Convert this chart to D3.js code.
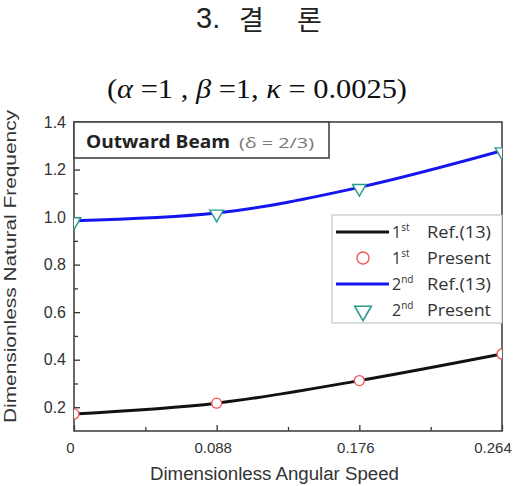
<!DOCTYPE html>
<html><head><meta charset="utf-8">
<script src="https://cdn.jsdelivr.net/npm/d3@7"></script>
<style>body{margin:0;background:#fff}</style>
</head><body>
<svg id="c" width="532" height="486"></svg>
<script>
const speeds = [0, 0.088, 0.176, 0.264];
const mode1Ref = [0.172, 0.217, 0.312, 0.424];
const mode1Present = [0.172, 0.217, 0.312, 0.424];
const mode2Ref = [0.985, 1.017, 1.125, 1.279];
const mode2Present = [0.985, 1.017, 1.125, 1.279];
const xTickValues = [0, 0.088, 0.176, 0.264];
const xTickLabels = ["0", "0.088", "0.176", "0.264"];
const yTickValues = [0.2, 0.4, 0.6, 0.8, 1.0, 1.2, 1.4];

const svg = d3.select("#c");
const L = 74, R = 502, T = 122, B = 431;
const x = d3.scaleLinear().domain([0, 0.264]).range([L, R]);
const y = d3.scaleLinear().domain([0.1, 1.4]).range([B, T]);
const sans = "'Liberation Sans', Arial, sans-serif";
const ui = "'Open Sans', 'Noto Sans', sans-serif";

// titles
svg.append("text").attr("x", 196).attr("y", 28)
  .attr("font-family", sans).attr("font-size", 29).attr("fill", "#222").text("3.");
svg.append("text").attr("x", 239).attr("y", 30)
  .attr("font-family", "'Noto Sans CJK KR', sans-serif").attr("font-size", 27).attr("fill", "#222").text("결");
svg.append("text").attr("x", 297).attr("y", 30)
  .attr("font-family", "'Noto Sans CJK KR', sans-serif").attr("font-size", 27).attr("fill", "#222").text("론");

const sub = svg.append("text").attr("x", 107).attr("y", 98)
  .attr("textLength", 300).attr("lengthAdjust", "spacingAndGlyphs")
  .attr("font-family", "'Liberation Serif', 'Times New Roman', serif").attr("font-size", 27).attr("fill", "#111");
sub.append("tspan").text("(");
sub.append("tspan").attr("font-style", "italic").text("α");
sub.append("tspan").text(" =1 , ");
sub.append("tspan").attr("font-style", "italic").text("β");
sub.append("tspan").text(" =1, ");
sub.append("tspan").attr("font-style", "italic").text("κ");
sub.append("tspan").text(" = 0.0025)");

// clip
svg.append("clipPath").attr("id", "clip").append("rect")
  .attr("x", L).attr("y", T).attr("width", R - L).attr("height", B - T);

// axes
const yAxis = d3.axisLeft(y).tickValues(yTickValues).tickFormat(d3.format(".1f")).tickSize(-6).tickPadding(8);
const gy = svg.append("g").attr("transform", `translate(${L},0)`).call(yAxis);
const yMinor = d3.axisLeft(y).tickValues([0.3, 0.5, 0.7, 0.9, 1.1, 1.3]).tickFormat("").tickSize(-4);
svg.append("g").attr("transform", `translate(${L},0)`).call(yMinor).select(".domain").remove();

const xAxis = d3.axisBottom(x).tickValues(xTickValues).tickFormat((d, i) => xTickLabels[i]).tickSize(-6).tickPadding(11);
const gx = svg.append("g").attr("transform", `translate(0,${B})`).call(xAxis);
const xMinor = d3.axisBottom(x).tickValues([0.044, 0.132, 0.22]).tickFormat("").tickSize(-4);
svg.append("g").attr("transform", `translate(0,${B})`).call(xMinor).select(".domain").remove();

svg.selectAll(".domain").remove();
svg.selectAll(".tick line").attr("stroke", "#333").attr("stroke-width", 1.3);
svg.selectAll(".tick text").attr("font-family", sans).attr("fill", "#333");
gy.selectAll(".tick text").attr("font-size", 16);
gx.selectAll(".tick text").attr("font-size", 15).attr("dx", (d, i) => i === 3 ? -9.5 : -4);

// frame
svg.append("rect").attr("x", L).attr("y", T).attr("width", R - L).attr("height", B - T)
  .attr("fill", "none").attr("stroke", "#444").attr("stroke-width", 1.6);

// axis labels
svg.append("text").attr("transform", "translate(16,423) rotate(-90)")
  .attr("textLength", 313).attr("lengthAdjust", "spacingAndGlyphs")
  .attr("font-family", sans).attr("font-size", 17).attr("fill", "#333").text("Dimensionless Natural Frequency");
svg.append("text").attr("x", 150).attr("y", 480)
  .attr("textLength", 249).attr("lengthAdjust", "spacingAndGlyphs")
  .attr("font-family", sans).attr("font-size", 18).attr("fill", "#333").text("Dimensionless Angular Speed");

// lines
const plot = svg.append("g").attr("clip-path", "url(#clip)");
const line = d3.line().x((d, i) => x(speeds[i])).y(d => y(d)).curve(d3.curveMonotoneX);
plot.append("path").datum(mode1Ref).attr("d", line).attr("fill", "none").attr("stroke", "#111").attr("stroke-width", 3);
plot.append("path").datum(mode2Ref).attr("d", line).attr("fill", "none").attr("stroke", "#1515f0").attr("stroke-width", 3);

// markers
plot.selectAll(".c1").data(mode1Present).join("circle")
  .attr("cx", (d, i) => x(speeds[i])).attr("cy", d => y(d)).attr("r", 5)
  .attr("fill", "#fff").attr("stroke", "#ee5555").attr("stroke-width", 1.3);
const tri = d3.symbol().type(d3.symbolTriangle).size(80);
plot.selectAll(".t2").data(mode2Present).join("path")
  .attr("d", tri).attr("transform", (d, i) => `translate(${x(speeds[i])},${y(d) + 1}) rotate(180)`)
  .attr("fill", "#fff").attr("stroke", "#2a9a8c").attr("stroke-width", 1.4);

// inset label box
svg.append("rect").attr("x", L).attr("y", T).attr("width", 255).attr("height", 36)
  .attr("fill", "#fff").attr("stroke", "#444").attr("stroke-width", 1.6);
svg.append("text").attr("x", 86).attr("y", 148).attr("textLength", 144).attr("lengthAdjust", "spacingAndGlyphs")
  .attr("font-family", ui).attr("font-weight", "bold").attr("font-size", 18).attr("fill", "#222").text("Outward Beam");
svg.append("text").attr("x", 239).attr("y", 148).attr("textLength", 75).attr("lengthAdjust", "spacingAndGlyphs")
  .attr("font-family", ui).attr("font-size", 15).attr("fill", "#777").text("(δ = 2/3)");

// legend
const lg = svg.append("g");
lg.append("rect").attr("x", 332).attr("y", 215).attr("width", R - 332).attr("height", 108)
  .attr("fill", "#fff").attr("stroke", "#bbb").attr("stroke-width", 1);
const legItems = [
  {ord: "1", sup: "st", txt: "Ref.(13)", type: "line", color: "#111"},
  {ord: "1", sup: "st", txt: "Present", type: "circle", color: "#ee5555"},
  {ord: "2", sup: "nd", txt: "Ref.(13)", type: "line", color: "#1515f0"},
  {ord: "2", sup: "nd", txt: "Present", type: "tri", color: "#2a9a8c"}
];
legItems.forEach((d, i) => {
  const cy = 232 + i * 26;
  if (d.type === "line") {
    lg.append("line").attr("x1", 336).attr("x2", 389).attr("y1", cy).attr("y2", cy)
      .attr("stroke", d.color).attr("stroke-width", 3);
  } else if (d.type === "circle") {
    lg.append("circle").attr("cx", 363).attr("cy", cy).attr("r", 6)
      .attr("fill", "#fff").attr("stroke", d.color).attr("stroke-width", 1.3);
  } else {
    lg.append("path").attr("d", d3.symbol().type(d3.symbolTriangle).size(120))
      .attr("transform", `translate(363,${cy + 1}) rotate(180)`)
      .attr("fill", "#fff").attr("stroke", d.color).attr("stroke-width", 1.6);
  }
  const t = lg.append("text").attr("x", 392).attr("y", cy + 6)
    .attr("font-family", ui).attr("font-size", 16).attr("fill", "#333");
  t.append("tspan").text(d.ord);
  t.append("tspan").attr("font-size", 10).attr("dy", -7).text(d.sup);
  lg.append("text").attr("x", 427).attr("y", cy + 6).attr("textLength", 64).attr("lengthAdjust", "spacingAndGlyphs")
    .attr("font-family", ui).attr("font-size", 16).attr("fill", "#333").text(d.txt);
});
</script>
</body></html>
